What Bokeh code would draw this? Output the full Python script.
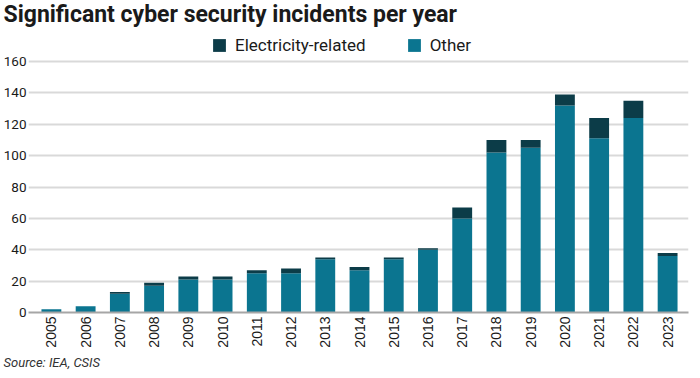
import math
from bokeh.plotting import figure
from bokeh.models import (ColumnDataSource, Range1d, FixedTicker, Legend, LegendItem, Title)
from bokeh.embed import file_html
from bokeh.resources import INLINE

years = [2005, 2006, 2007, 2008, 2009, 2010, 2011, 2012, 2013, 2014,
         2015, 2016, 2017, 2018, 2019, 2020, 2021, 2022, 2023]
other = [2, 4, 12, 17, 21, 21, 25, 25, 34, 27, 34, 40, 60, 102, 105, 132, 111, 124, 36]
electricity = [0, 0, 1, 2, 2, 2, 2, 3, 1, 2, 1, 1, 7, 8, 5, 7, 13, 11, 2]
y_ticks = [0, 20, 40, 60, 80, 100, 120, 140, 160]

title_text = "Significant cyber security incidents per year"
source_text = "Source: IEA, CSIS"
series_names = ["Other", "Electricity-related"]
colors = {"Other": "#0b7590", "Electricity-related": "#0c3c48"}

src = ColumnDataSource(dict(year=years, Other=other, **{"Electricity-related": electricity}))

FONT = "Roboto"
W, H = 692, 372

# layout in figure pixels
LEFT_PX = 25      # frame left
RIGHT_PX = 688    # frame right
TOP_PX = 29       # frame top (legend sits inside the top of the frame)
TICK160_PX = 61   # where 160 should sit
ZERO_PX = 312     # x axis
STEP_PX = 34.39   # distance between bar centres
FIRST_PX = 48     # centre of first bar

y_max = 160 * (ZERO_PX - TOP_PX) / (ZERO_PX - TICK160_PX)
x_min = years[0] - (FIRST_PX - LEFT_PX) / STEP_PX
x_max = years[-1] + (RIGHT_PX - (FIRST_PX + STEP_PX * (len(years) - 1))) / STEP_PX

p = figure(width=W, height=H, output_backend="svg", toolbar_location=None,
           x_range=Range1d(x_min, x_max), y_range=Range1d(0, y_max),
           min_border_left=LEFT_PX, min_border_right=W - RIGHT_PX,
           min_border_top=TOP_PX, min_border_bottom=H - ZERO_PX)
p.title = None
p.outline_line_color = None
p.background_fill_color = "white"
p.border_fill_color = "white"

rs = p.vbar_stack(series_names, x="year", width=0.58, source=src,
                  color=[colors[n] for n in series_names], line_color=None)

p.xgrid.grid_line_color = None
p.ygrid.grid_line_color = "#d9d9d9"
p.ygrid.grid_line_width = 2
p.ygrid.ticker = FixedTicker(ticks=y_ticks)

p.yaxis.ticker = FixedTicker(ticks=y_ticks)
p.yaxis.axis_line_color = None
p.yaxis.major_tick_line_color = None
p.yaxis.minor_tick_line_color = None
p.yaxis.major_tick_out = 0
p.yaxis.major_tick_in = 0
p.yaxis.minor_tick_out = 0
p.yaxis.major_label_text_font = FONT
p.yaxis.major_label_text_font_size = "13.5px"
p.yaxis.major_label_text_color = "#1a1a1a"
p.yaxis.major_label_standoff = 2

p.xaxis.ticker = FixedTicker(ticks=years)
p.xaxis.axis_line_color = "#a6a6a6"
p.xaxis.axis_line_width = 2
p.xaxis.major_tick_line_color = None
p.xaxis.minor_tick_line_color = None
p.xaxis.major_tick_out = 0
p.xaxis.major_tick_in = 0
p.xaxis.minor_tick_out = 0
p.xaxis.major_label_orientation = math.pi / 2
p.xaxis.major_label_text_font = "Liberation Sans"
p.xaxis.major_label_text_font_size = "14px"
p.xaxis.major_label_text_color = "#1a1a1a"
p.xaxis.major_label_standoff = 4

legend = Legend(items=[LegendItem(label="Electricity-related", renderers=[rs[1]]),
                       LegendItem(label="Other", renderers=[rs[0]])],
                orientation="horizontal", location=(183, ZERO_PX - 55),
                label_text_font=FONT, label_text_font_size="17px",
                label_text_color="#1a1a1a",
                glyph_width=16, glyph_height=16, spacing=40,
                label_standoff=8, padding=0, margin=0,
                border_line_color=None, background_fill_alpha=0)
p.add_layout(legend, "center")

p.add_layout(Title(text=title_text, align="left", text_font=FONT, text_font_size="23px",
                   text_font_style="bold", text_color="#1a1a1a",
                   offset=-LEFT_PX, standoff=0, vertical_align="top"), "above")
p.add_layout(Title(text=source_text, align="left", text_font=FONT, text_font_size="13px",
                   text_font_style="italic", text_color="#333333",
                   offset=-LEFT_PX, standoff=3.5, vertical_align="bottom"), "below")

open("out.html", "w").write(file_html(p, INLINE))
